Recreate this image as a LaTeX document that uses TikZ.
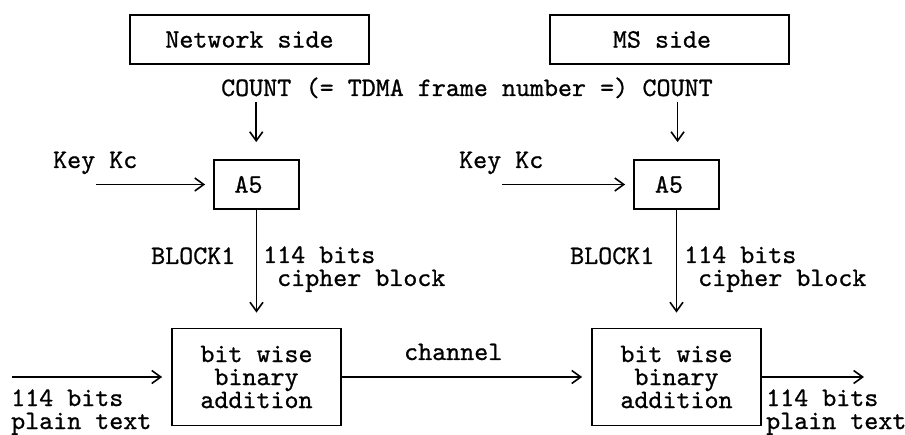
\documentclass[tikz,border=0pt]{standalone}
\usepackage{fontspec}
\newfontfamily\asc{lmmono10-regular}[Extension=.otf, FakeBold=0.8]
\usetikzlibrary{arrows.meta}
\begin{document}
\begin{tikzpicture}[x=1pt,y=-1pt,
  every node/.style={inner sep=0pt, font=\asc\fontsize{26.7}{23}\selectfont},
  box/.style={draw, line width=1.8pt},
  conn/.style={line width=1.6pt, -{Straight Barb[length=9pt,width=13pt]}},
  lab/.style={anchor=base west, align=left}]
\fill[white] (0,0) rectangle (905,435);
\useasboundingbox (0,0) rectangle (905,435);

% side boxes
\node[box, minimum width=239pt, minimum height=49pt] (net) at (249.5,39.5) {Network side};
\node[box, minimum width=239pt, minimum height=49pt] (ms) at (669.5,39.5) {MS side\hspace*{15pt}};

% COUNT line
\node[anchor=base west] (cL) at (221,96) {COUNT};
\node[anchor=base west] (mid) at (cL.base east) {\hphantom{x}(=\hphantom{x}TDMA\hphantom{x}frame\hphantom{x}number\hphantom{x}=)\hphantom{x}};
\node[anchor=base west] (cR) at (mid.base east) {COUNT};

% A5 boxes
\node[box, minimum width=85pt, minimum height=49pt] (a5L) at (256.5,184.5) {A5\hspace*{16pt}};
\node[box, minimum width=85pt, minimum height=49pt] (a5R) at (676.5,184.5) {A5\hspace*{15pt}};

% adders
\node[box, minimum width=169pt, minimum height=97pt, align=center] (addL) at (256.5,377) {bit wise\\binary\\addition};
\node[box, minimum width=169pt, minimum height=97pt, align=center] (addR) at (676.5,377) {bit wise\\binary\\addition};

% labels
\node[lab] (keyL) at (53,168) {Key Kc};
\node[lab] (keyR) at (459,168) {Key Kc};
\node[lab] (blkL) at (151,264) {BLOCK1};
\node[lab] (blkR) at (570,264) {BLOCK1};
\node[lab] (cipL) at (263,286) {114 bits\\\hphantom{c}cipher block};
\node[lab] (cipR) at (684,286) {114 bits\\\hphantom{c}cipher block};
\node[lab] (chan) at (404,360) {channel};
\node[lab] (inlab) at (11,429) {114 bits\\plain text};
\node[lab] (outlab) at (766,429) {114 bits\\plain text};

% free ends
\coordinate (kL0) at (96,184.5);
\coordinate (kR0) at (502,184.5);
\coordinate (in0) at (12,377);
\coordinate (out0) at (864,377);

% connectors
\draw[conn, shorten <=6pt, shorten >=17pt] (cL.south) -- (cL.south |- a5L.north);
\draw[conn, shorten <=6pt, shorten >=17pt] (cR.south) -- (cR.south |- a5R.north);
\draw[conn, shorten >=8pt] (kL0) -- (kL0 -| a5L.west);
\draw[conn, shorten >=8pt] (kR0) -- (kR0 -| a5R.west);
\draw[conn, shorten >=15pt] (a5L.south) -- (addL.north);
\draw[conn, shorten >=15pt] (a5R.south) -- (addR.north);
\draw[conn, shorten >=9pt] (in0) -- (addL.west);
\draw[conn, shorten >=9pt] (addL.east) -- (addR.west);
\draw[conn] (addR.east) -- (out0);
\end{tikzpicture}
\end{document}
